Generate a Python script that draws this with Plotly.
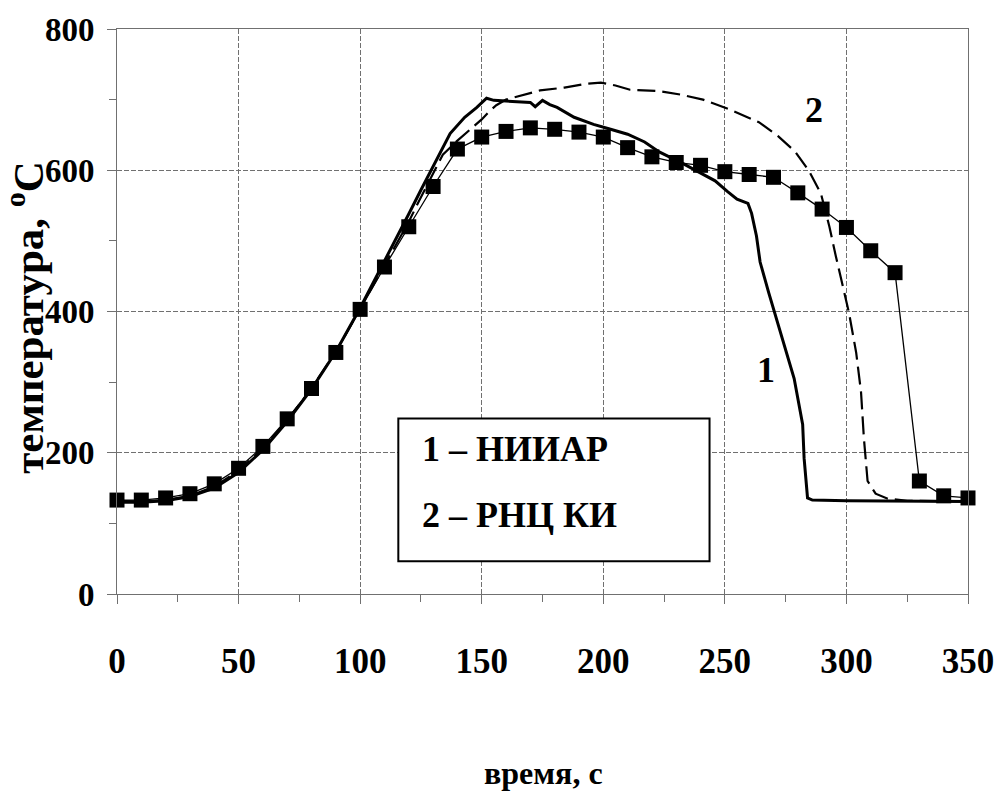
import plotly.graph_objects as go

# Curve 1 (НИИАР) - thick solid
t1 = [0, 10, 20, 30, 40, 50, 60, 70, 80, 90, 100, 105, 110, 115, 120, 125, 130, 134, 137, 143, 148, 152,
      155, 160, 165, 170, 172, 175, 178, 181, 188, 196, 203, 210, 217, 223, 233, 238, 246, 251, 255,
      259.5, 261, 263, 264.5, 268, 274, 278.5, 282, 282.6, 284, 286, 300, 320, 350]
T1 = [130, 130, 132, 138, 150, 172, 204, 244, 290, 343, 405, 438, 470, 505, 538, 572, 605, 632, 652, 675, 689, 702,
      699, 698, 697, 696, 690, 699, 693, 689, 675, 665, 658, 651, 640, 626, 609, 600, 585, 570, 559,
      553, 539, 507, 470, 427, 357, 305, 240, 192, 136, 133, 132, 132, 131]

# Curve 2 (РНЦ КИ) - dashed
t2 = [0, 10, 20, 30, 40, 50, 60, 70, 80, 90, 100, 110, 115, 120, 124, 130, 134, 140, 145, 150, 153, 156, 160,
      167.6, 174, 184, 192, 199, 205, 211, 223, 232, 241, 252, 264, 272, 279, 284.6, 289.5, 293, 295.6,
      301, 304, 306, 307.2, 308.7, 312, 317, 325, 350]
T2 = [132, 131, 133, 139, 152, 175, 206, 246, 291, 343, 404, 465, 495, 527, 555, 596, 622, 642, 657, 672, 683, 692, 700,
      707, 713, 717, 722, 724, 720, 714, 712, 707, 700, 686, 668, 648, 626, 599, 567, 520, 479,
      399, 342, 286, 220, 160, 142, 135, 132, 131]

# Calculation with square markers
tm = [0, 10, 20, 30, 40, 50, 60, 70, 80, 90, 100, 110, 120, 130, 140, 150, 160, 170, 180, 190,
      200, 210, 220, 230, 240, 250, 260, 270, 280, 290, 300, 310, 320, 330, 340, 350]
Tm = [133, 133, 136, 142, 156, 178, 209, 248, 291, 342, 403, 463, 520, 577, 630, 647, 655, 660, 658, 654,
      647, 632, 619, 611, 607, 598, 594, 590, 568, 545, 519, 486, 455, 160, 139, 136]

x_ticks = [0, 50, 100, 150, 200, 250, 300, 350]
y_ticks = [0, 200, 400, 600, 800]

SERIF = "Liberation Serif"

fig = go.Figure()
fig.add_trace(go.Scatter(x=tm, y=Tm, mode="lines+markers",
                         line=dict(color="black", width=1.3),
                         marker=dict(symbol="square", size=15, color="black"),
                         cliponaxis=False, showlegend=False))
fig.add_trace(go.Scatter(x=t2, y=T2, mode="lines",
                         line=dict(color="black", width=2.2, dash="18px,7px"),
                         showlegend=False))
fig.add_trace(go.Scatter(x=t1, y=T1, mode="lines",
                         line=dict(color="black", width=3),
                         showlegend=False))

grid = "#707070"
fig.update_xaxes(range=[0, 350], tickvals=x_ticks, ticktext=[str(v) for v in x_ticks],
                 showgrid=True, gridcolor=grid, gridwidth=1, griddash="5px,2px",
                 zeroline=False, showline=True, linecolor=grid, linewidth=1, mirror=True,
                 ticks="outside", ticklen=9, tickcolor=grid,
                 minor=dict(dtick=25, tick0=0, ticks="outside", ticklen=7, tickcolor=grid, showgrid=False),
                 ticklabelstandoff=27,
                 tickfont=dict(family=SERIF, size=35, color="black", weight="bold"))
fig.update_yaxes(range=[0, 800], tickvals=y_ticks, ticktext=[str(v) for v in y_ticks],
                 showgrid=True, gridcolor=grid, gridwidth=1, griddash="5px,2px",
                 zeroline=False, showline=True, linecolor=grid, linewidth=1, mirror=True,
                 ticks="outside", ticklen=9, tickcolor=grid,
                 minor=dict(dtick=100, tick0=0, ticks="outside", ticklen=7, tickcolor=grid, showgrid=False),
                 ticklabelstandoff=6,
                 tickfont=dict(family=SERIF, size=33, color="black", weight="bold"))

# Legend box
fig.add_shape(type="rect", xref="x", yref="y", x0=115.7, x1=243.7, y0=46.3, y1=248.4,
              line=dict(color="black", width=2), fillcolor="white", layer="above")
fig.add_annotation(x=124.7, y=206, xref="x", yref="y", text="1 – НИИАР", showarrow=False,
                   xanchor="left", yanchor="middle",
                   font=dict(family=SERIF, size=36, color="black", weight="bold"))
fig.add_annotation(x=124.7, y=112, xref="x", yref="y", text="2 – РНЦ КИ", showarrow=False,
                   xanchor="left", yanchor="middle",
                   font=dict(family=SERIF, size=36, color="black", weight="bold"))

# Curve labels
fig.add_annotation(x=267, y=317, xref="x", yref="y", text="1", showarrow=False,
                   font=dict(family=SERIF, size=36, color="black", weight="bold"))
fig.add_annotation(x=286.6, y=685, xref="x", yref="y", text="2", showarrow=False,
                   font=dict(family=SERIF, size=36, color="black", weight="bold"))

# Axis titles
fig.add_annotation(x=-0.1085, y=0.49, xref="paper", yref="paper",
                   text="температура, <sup>o</sup>C", textangle=-90, showarrow=False,
                   xanchor="center", yanchor="middle",
                   font=dict(family=SERIF, size=43, color="black", weight="bold"))
fig.add_annotation(x=0.501, y=-0.317, xref="paper", yref="paper",
                   text="время, с", showarrow=False, xanchor="center", yanchor="middle",
                   font=dict(family=SERIF, size=32, color="black", weight="bold"))

fig.update_layout(width=1006, height=798,
                  margin=dict(l=117, r=33, t=23, b=204),
                  paper_bgcolor="white", plot_bgcolor="white")

fig.write_html("out.html")
